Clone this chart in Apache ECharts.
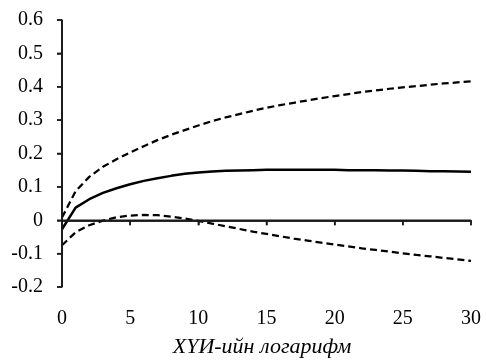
<!DOCTYPE html>
<html>
<head>
<meta charset="utf-8">
<script src="https://cdn.jsdelivr.net/npm/echarts@6/dist/echarts.min.js"></script>
<style>
  html, body { margin: 0; padding: 0; background: #fff; }
  #chart { width: 486px; height: 363px; }
</style>
</head>
<body>
<div id="chart"></div>
<script>
// Horizon (periods) and impulse response with its confidence band
const periods = Array.from({ length: 31 }, (_, i) => i);

const response = [
  -0.027, 0.038, 0.063, 0.082, 0.096, 0.108, 0.118, 0.126, 0.133, 0.139,
  0.143, 0.146, 0.148, 0.149, 0.150, 0.151, 0.151, 0.151, 0.151, 0.151,
  0.151, 0.150, 0.150, 0.150, 0.149, 0.149, 0.148, 0.147, 0.147, 0.146,
  0.145
];

const upperBand = [
  0.008, 0.087, 0.130, 0.160, 0.183, 0.203, 0.222, 0.240, 0.256, 0.270,
  0.284, 0.297, 0.308, 0.318, 0.328, 0.337, 0.345, 0.352, 0.359, 0.366,
  0.372, 0.378, 0.384, 0.389, 0.394, 0.398, 0.402, 0.406, 0.410, 0.413,
  0.416
];

const lowerBand = [
  -0.075, -0.036, -0.015, -0.001, 0.009, 0.014, 0.016, 0.015, 0.011, 0.005,
  -0.002, -0.010, -0.018, -0.026, -0.034, -0.041, -0.048, -0.055, -0.061, -0.067,
  -0.073, -0.078, -0.084, -0.089, -0.094, -0.099, -0.104, -0.108, -0.113, -0.117,
  -0.122
];

const yTickLabels = ['-0.2', '-0.1', '0', '0.1', '0.2', '0.3', '0.4', '0.5', '0.6'];
const xTickLabels = ['0', '5', '10', '15', '20', '25', '30'];
const xTitle = 'ХҮИ-ийн логарифм';

const FONT = 'Liberation Serif';
const AXIS_COLOR = '#1a1a1a';
const TICK_LEN = 5;

const pairs = (ys) => periods.map((x, i) => [x, ys[i]]);

const chart = echarts.init(document.getElementById('chart'));

chart.setOption({
  animation: false,
  grid: { left: 62, right: 15, top: 20, bottom: 75 },
  xAxis: {
    type: 'value', min: 0, max: 30, interval: 5,
    axisLine: { show: true, onZero: true, lineStyle: { color: AXIS_COLOR, width: 1.5 } },
    axisTick: { show: true, length: TICK_LEN, lineStyle: { color: AXIS_COLOR, width: 1.5 } },
    splitLine: { show: false },
    axisLabel: {
      margin: 22, color: '#000', fontFamily: FONT, fontSize: 20,
      formatter: (v) => xTickLabels[Math.round(v / 5)]
    },
    name: xTitle, nameLocation: 'middle', nameGap: 49,
    nameTextStyle: { fontFamily: FONT, fontSize: 22, fontStyle: 'italic', color: '#000', padding: [0, 9, 0, 0] }
  },
  yAxis: {
    type: 'value', min: -0.2, max: 0.6, interval: 0.1,
    axisLine: { show: true, onZero: false, lineStyle: { color: AXIS_COLOR, width: 1.5 } },
    axisTick: { show: true, length: TICK_LEN, lineStyle: { color: AXIS_COLOR, width: 1.5 } },
    splitLine: { show: false },
    axisLabel: {
      margin: 19, color: '#000', fontFamily: FONT, fontSize: 20,
      formatter: (v) => yTickLabels[Math.round((v + 0.2) * 10)]
    }
  },
  series: [
    {
      name: 'upper', type: 'line', data: pairs(upperBand),
      symbol: 'none', z: 3,
      lineStyle: { color: '#000', width: 2.25, type: [7, 4] }
    },
    {
      name: 'response', type: 'line', data: pairs(response),
      symbol: 'none', z: 3,
      lineStyle: { color: '#000', width: 2.5, type: 'solid' },
      // zero line and the vertical axis at period 0
      markLine: {
        silent: true, symbol: 'none', animation: false,
        label: { show: false },
        emphasis: { disabled: true },
        lineStyle: { color: AXIS_COLOR, width: 1.5, type: 'solid' },
        data: [{ yAxis: 0 }, { xAxis: 0 }]
      }
    },
    {
      name: 'lower', type: 'line', data: pairs(lowerBand),
      symbol: 'none', z: 3,
      lineStyle: { color: '#000', width: 2.25, type: [7, 4] }
    }
  ]
});

// Tick marks and axis lines placed through the grid's coordinate system.
const toPx = (x, y) => chart.convertToPixel({ gridIndex: 0 }, [x, y]);
const yValues = yTickLabels.map(Number);
const xValues = xTickLabels.map(Number);
const xMin = xValues[0], xMax = xValues[xValues.length - 1];
const yMin = yValues[0], yMax = yValues[yValues.length - 1];

const seg = (p1, p2) => ({
  type: 'line', silent: true, z: 100,
  shape: { x1: p1[0], y1: p1[1], x2: p2[0], y2: p2[1] },
  style: { stroke: AXIS_COLOR, lineWidth: 1.5 }
});

const axisGraphics = [];
const topLeft = toPx(xMin, yMax);
if (topLeft && isFinite(topLeft[0])) {
  const ax = topLeft[0], ayTop = topLeft[1];
  const ayBottom = toPx(xMin, yMin)[1];
  const zeroY = toPx(xMin, 0)[1];
  const axRight = toPx(xMax, 0)[0];
  axisGraphics.push(seg([ax, ayTop], [ax, ayBottom]));
  axisGraphics.push(seg([ax, zeroY], [axRight, zeroY]));
  yValues.forEach((v) => {
    const y = toPx(xMin, v)[1];
    axisGraphics.push(seg([ax - TICK_LEN, y], [ax, y]));
  });
  xValues.forEach((v) => {
    const x = toPx(v, 0)[0];
    axisGraphics.push(seg([x, zeroY], [x, zeroY + TICK_LEN]));
  });
  chart.setOption({ graphic: { elements: axisGraphics } });
}
</script>
</body>
</html>
